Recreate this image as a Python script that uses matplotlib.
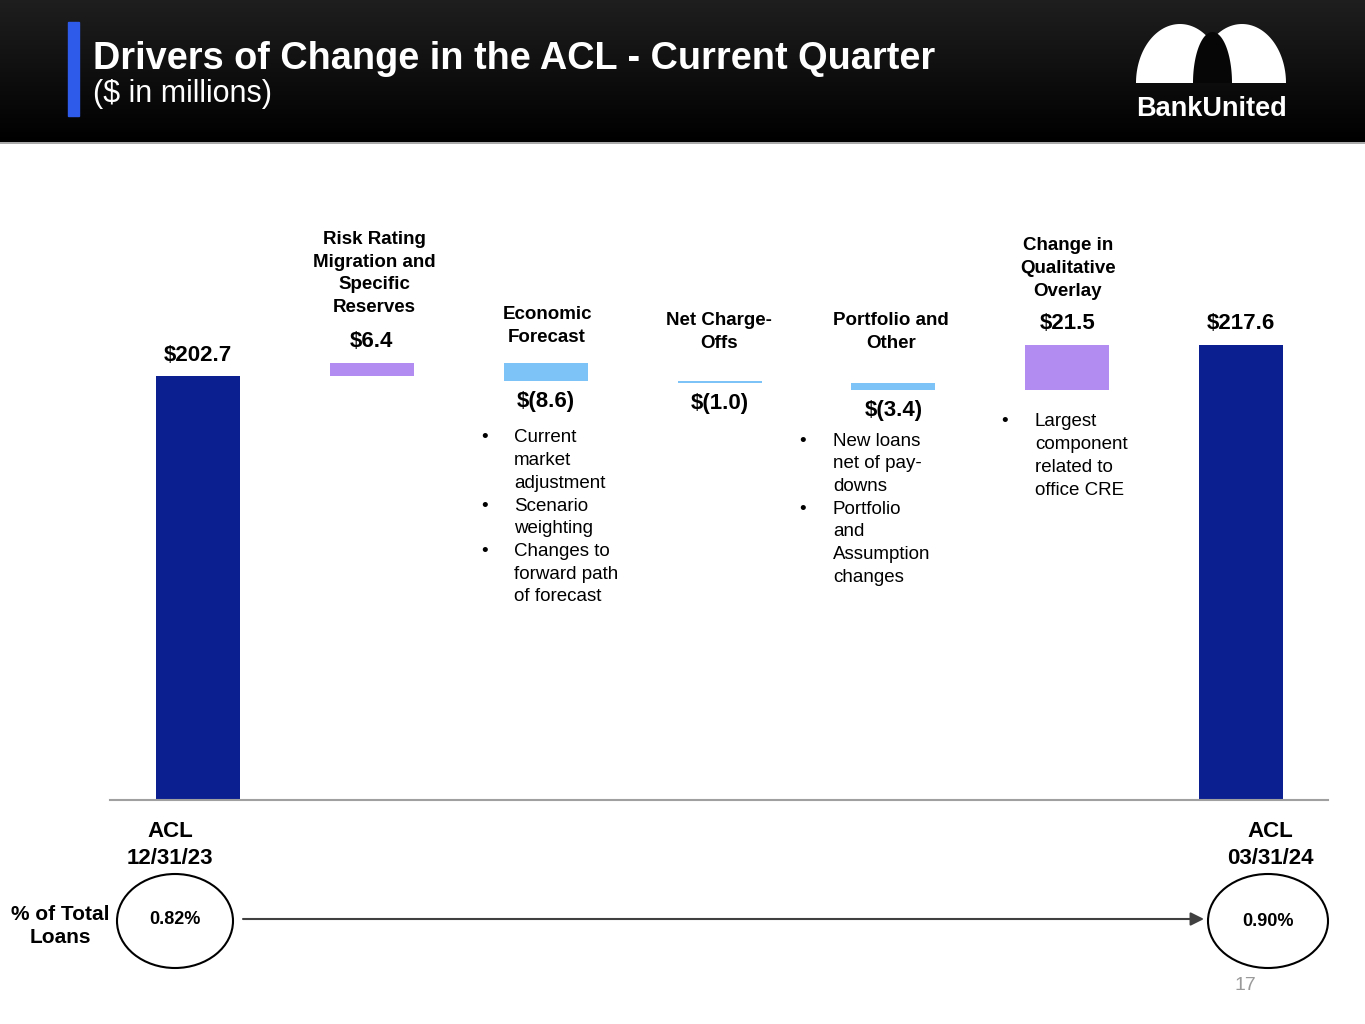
import numpy as np
import matplotlib
matplotlib.use("Agg")
import matplotlib.pyplot as plt
from matplotlib.patches import Rectangle, Ellipse, Polygon

plt.rcParams['font.family'] = ['Liberation Sans', 'DejaVu Sans']

# ---------------- data ----------------
start_label = "ACL\n12/31/23"
end_label = "ACL\n03/31/24"
start_value = 202.7
end_value = 217.6
driver_names = ["Risk Rating\nMigration and\nSpecific\nReserves",
                "Economic\nForecast",
                "Net Charge-\nOffs",
                "Portfolio and\nOther",
                "Change in\nQualitative\nOverlay"]
driver_values = [6.4, -8.6, -1.0, -3.4, 21.5]
pct_start = "0.82%"
pct_end = "0.90%"
econ_bullets = ["Current\nmarket\nadjustment", "Scenario\nweighting", "Changes to\nforward path\nof forecast"]
portfolio_bullets = ["New loans\nnet of pay-\ndowns", "Portfolio\nand\nAssumption\nchanges"]
qual_bullets = ["Largest\ncomponent\nrelated to\noffice CRE"]

NAVY = "#0B1F91"
PURPLE = "#B38CF2"
LBLUE = "#7DC3F8"

W, H = 1365, 1024
fig = plt.figure(figsize=(W / 100, H / 100), dpi=100)
fig.patch.set_facecolor("white")

# pixel-coordinate overlay axes
bg = fig.add_axes([0, 0, 1, 1])
bg.set_xlim(0, W)
bg.set_ylim(H, 0)
bg.axis("off")

# header gradient
grad = np.linspace(0.12, 0.0, 142)[:, None] * np.ones((1, 10))
rgb = np.dstack([grad, grad, grad])
bg.imshow(rgb, extent=(0, W, 142, 0), aspect="auto", origin="upper", zorder=0)
bg.plot([0, W], [143, 143], color="#9a9a9a", lw=1.2, zorder=1)
bg.add_patch(Rectangle((68, 22), 11, 94, color="#2F5BEA", zorder=2))
bg.text(93, 59, "Drivers of Change in the ACL - Current Quarter", color="white",
        fontsize=27.3, fontweight="bold", va="center", ha="left")
bg.text(93, 94, "($ in millions)", color="white", fontsize=22, va="center", ha="left")

# logo (upper half-ellipses)
def half_ellipse(cx, cy, a, b, color, z):
    t = np.linspace(0, np.pi, 80)
    pts = np.column_stack([cx + a * np.cos(t), cy - b * np.sin(t)])
    bg.add_patch(Polygon(pts, closed=True, color=color, zorder=z, lw=0))

half_ellipse(1180, 83, 44, 59, "white", 3)
half_ellipse(1242, 83, 44, 59, "white", 3)
half_ellipse(1212.5, 83, 19.5, 51, "#060606", 4)
bg.text(1211, 109, "BankUnited", color="white", fontsize=19.5, fontweight="bold",
        ha="center", va="center", zorder=5)

# ---------------- waterfall ----------------
ax = fig.add_axes([110 / W, 1 - 800 / H, (1328 - 110) / W, 523 / H])
ax.set_facecolor("none")
n = len(driver_values) + 2
xs = np.arange(n)
ax.set_xlim(-0.506, n - 1 + 0.5)
ax.set_ylim(0, 250)
bw = 0.483

tops, bottoms = [], []
ax.bar(0, start_value, width=bw, color=NAVY)
tops.append(start_value); bottoms.append(0)
cum = start_value
for i, v in enumerate(driver_values, start=1):
    b = cum if v >= 0 else cum + v
    ax.bar(i, abs(v), bottom=b, width=bw, color=PURPLE if v >= 0 else LBLUE)
    tops.append(b + abs(v)); bottoms.append(b)
    cum += v
ax.bar(n - 1, end_value, width=bw, color=NAVY)
tops.append(end_value); bottoms.append(0)

for s in ["top", "right", "left"]:
    ax.spines[s].set_visible(False)
ax.spines["bottom"].set_color("#a0a0a0")
ax.spines["bottom"].set_linewidth(1.5)
ax.set_xticks([]); ax.set_yticks([])

def fmt(v):
    return f"${v:.1f}" if v >= 0 else f"$({abs(v):.1f})"

all_vals = [start_value] + driver_values + [end_value]
for i, v in enumerate(all_vals):
    if v >= 0:
        ax.annotate(fmt(v), (xs[i], tops[i]), xytext=(0, 15), textcoords="offset points",
                    ha="center", va="center", fontsize=16, fontweight="bold")
    else:
        ax.annotate(fmt(v), (xs[i], bottoms[i]), xytext=(0, -15), textcoords="offset points",
                    ha="center", va="center", fontsize=16, fontweight="bold")

# category labels (pixel coords)
cat_pos = [(374, 273.5), (547, 326), (719, 332), (891, 332), (1068, 268.5)]
for (x, y), name in zip(cat_pos, driver_names):
    bg.text(x, y, name, ha="center", va="center", fontsize=13.5, fontweight="bold",
            linespacing=1.43, zorder=6)

# bullets
def bullets(xb, xt, y0, items):
    y = y0
    for it in items:
        bg.text(xb, y, "•", ha="left", va="center", fontsize=13.5)
        for line in it.split("\n"):
            bg.text(xt, y, line, ha="left", va="center", fontsize=13.5)
            y += 22.7

bullets(481, 514, 438, econ_bullets)
bullets(799, 833, 441, portfolio_bullets)
bullets(1001, 1035, 422, qual_bullets)

# bottom labels
bg.text(170, 845, start_label, ha="center", va="center", fontsize=16, fontweight="bold",
        linespacing=1.38)
bg.text(1270, 845, end_label, ha="center", va="center", fontsize=16, fontweight="bold",
        linespacing=1.38)
bg.text(60, 926, "% of Total\nLoans", ha="center", va="center", fontsize=15, fontweight="bold",
        linespacing=1.3)
bg.add_patch(Ellipse((175, 921), 116, 94, fill=False, ec="black", lw=1.5))
bg.add_patch(Ellipse((1268, 921), 120, 94, fill=False, ec="black", lw=1.5))
bg.text(175, 920, pct_start, ha="center", va="center", fontsize=13, fontweight="bold")
bg.text(1268, 921, pct_end, ha="center", va="center", fontsize=13, fontweight="bold")
bg.annotate("", xy=(1204, 919), xytext=(243, 919),
            arrowprops=dict(arrowstyle="-|>", color="#404040", lw=1.5, mutation_scale=20,
                            shrinkA=0, shrinkB=0))
bg.text(1245, 986, "17", ha="center", va="center", fontsize=14, color="#9a9a9a")

fig.savefig("out.png", dpi=100)
